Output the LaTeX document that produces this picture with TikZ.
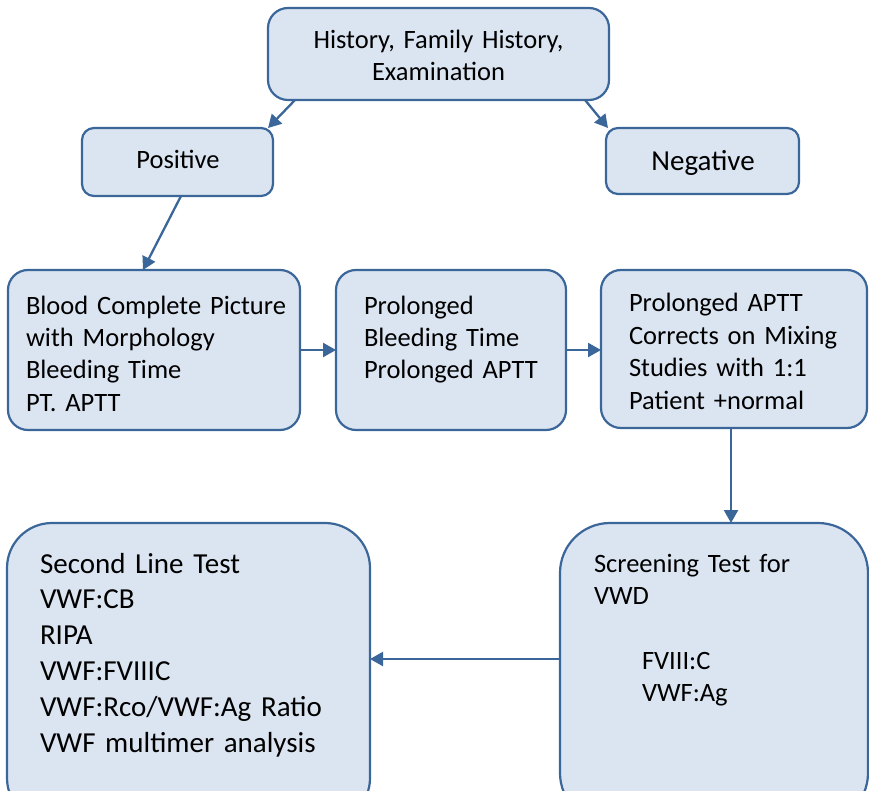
\documentclass[tikz,border=0pt]{standalone}
\usepackage{fontspec}
\setmainfont{Carlito}
\usetikzlibrary{arrows.meta}
\definecolor{boxfill}{HTML}{DBE5F1}
\definecolor{boxline}{HTML}{3B6699}
\begin{document}
\begin{tikzpicture}[x=1pt,y=-1pt,
  box/.style={draw=boxline, fill=boxfill, line width=2.2pt, rounded corners=#1,
    inner sep=0pt, outer sep=0pt},
  box/.default=20pt,
  label/.style={inner sep=0pt, outer sep=0pt, align=left, text width=#1,
    font=\fontsize{26.5}{32.4}\selectfont},
  label/.default=300pt,
  arr/.style={draw=boxline, line width=2.3pt,
    -{Triangle[length=13pt,width=14pt]}}]
\useasboundingbox (0,0) rectangle (869,791);
\clip (0,0) rectangle (869,791);

% boxes
\node[box, minimum width=341pt, minimum height=92pt] (top) at (438.5,54) {};
\node[box=12pt, minimum width=191pt, minimum height=68pt] (pos) at (177.5,162) {};
\node[box=12pt, minimum width=193pt, minimum height=66pt] (neg) at (702.5,161) {};
\node[box, minimum width=292pt, minimum height=160pt] (blood) at (154,350) {};
\node[box, minimum width=230pt, minimum height=160pt] (prol) at (451,350) {};
\node[box, minimum width=266pt, minimum height=158pt] (aptt) at (734,349) {};
\node[box=50pt, minimum width=308pt, minimum height=300pt] (screen) at (714,673) {};
\node[box=45pt, minimum width=363pt, minimum height=300pt] (second) at (188.5,673) {};

% texts
\node[inner sep=0pt, align=center, text width=330pt,
  font=\fontsize{26.5}{32}\selectfont, anchor=base]
  (topt) at (438.5,49) {History, Family History,\\Examination};
\node[inner sep=0pt, font=\fontsize{26.5}{32}\selectfont, anchor=base]
  (post) at (178,169) {Positive};
\node[inner sep=0pt, font=\fontsize{29}{35}\selectfont, anchor=base]
  (negt) at (703,171) {Negative};
\node[label, anchor=base west] (bloodt) at (26,314)
  {Blood Complete Picture\\with Morphology\\Bleeding Time\\PT. APTT};
\node[label, anchor=base west] (prolt) at (364,314)
  {Prolonged\\Bleeding Time\\Prolonged APTT};
\node[label, anchor=base west] (apttt) at (629,312)
  {Prolonged APTT\\Corrects on Mixing\\Studies with 1:1\\Patient +normal};
\node[label, anchor=base west] (screent) at (594,572)
  {Screening Test for\\VWD\\[32.4pt]\hspace*{48pt}FVIII:C\\\hspace*{48pt}VWF:Ag};
\node[label, font=\fontsize{29}{35.8}\selectfont, anchor=base west] (secondt) at (40,573)
  {Second Line Test\\VWF:CB\\RIPA\\VWF:FVIIIC\\VWF:Rco/VWF:Ag Ratio\\VWF multimer analysis};

% connectors
\coordinate (midline) at (0,659);
\draw[arr] ([xshift=27pt]top.south west) -- ([xshift=-5pt]pos.north east);
\draw[arr] ([xshift=-24pt]top.south east) -- ([xshift=2pt]neg.north west);
\draw[arr] ([xshift=3.5pt]pos.south) -- ([xshift=-11pt]blood.north);
\draw[arr] (blood.east) -- (prol.west);
\draw[arr] (prol.east) -- (prol.east -| aptt.west);
\draw[arr] ([xshift=-3pt]aptt.south) -- ([xshift=-3pt]aptt.south |- screen.north);
\draw[arr] (screen.west |- midline) -- (second.east |- midline);
\end{tikzpicture}
\end{document}
